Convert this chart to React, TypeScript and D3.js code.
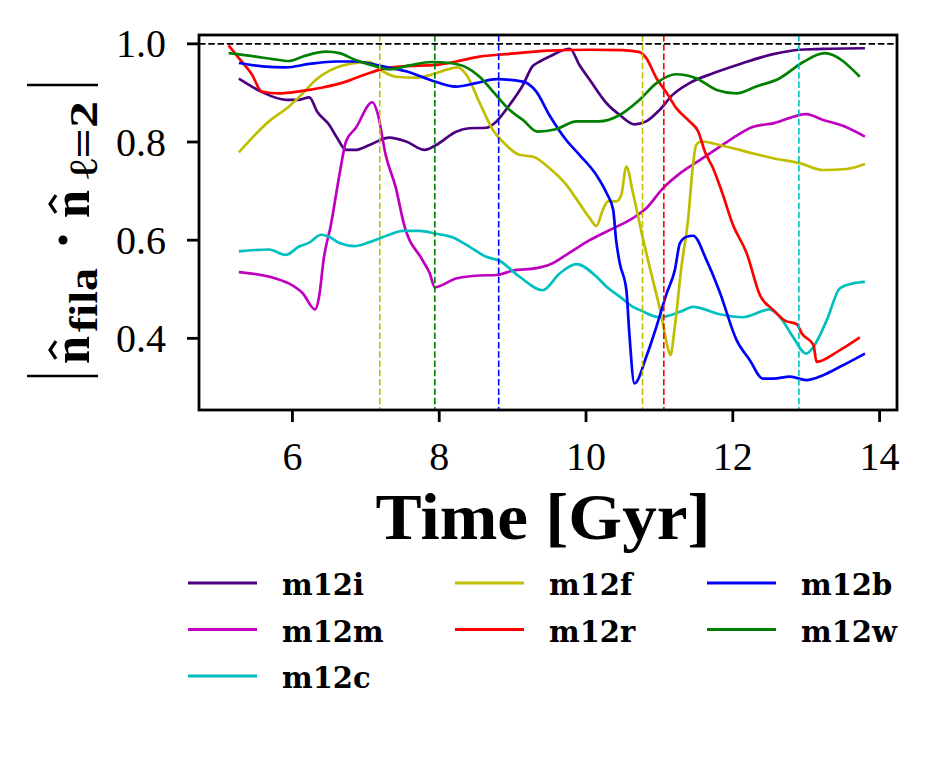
import * as d3 from 'd3';

// Time [Gyr] and |n_fila . n_l=2| per halo
const tM12i = [5.27, 5.57, 5.91, 6.09, 6.23, 6.34, 6.50, 6.61, 6.73, 6.86, 7.05, 7.32, 7.55, 7.80, 7.96, 8.23, 8.41, 8.64, 8.78, 8.96, 9.14, 9.27, 9.37, 9.50, 9.78, 9.91, 10.05, 10.28, 10.46, 10.66, 10.82, 11.00, 11.18, 11.41, 11.73, 12.10, 12.55, 12.91, 13.32, 13.80];
const vM12i = [0.929, 0.903, 0.886, 0.886, 0.891, 0.861, 0.835, 0.808, 0.784, 0.784, 0.794, 0.809, 0.801, 0.784, 0.794, 0.821, 0.828, 0.829, 0.842, 0.876, 0.916, 0.954, 0.964, 0.974, 0.990, 0.957, 0.927, 0.879, 0.855, 0.836, 0.842, 0.865, 0.896, 0.920, 0.940, 0.959, 0.979, 0.988, 0.990, 0.991];

const tM12m = [5.27, 5.77, 5.95, 6.14, 6.31, 6.36, 6.43, 6.52, 6.64, 6.73, 6.86, 7.09, 7.16, 7.27, 7.41, 7.52, 7.77, 7.87, 7.94, 8.23, 8.55, 8.78, 9.00, 9.32, 9.50, 9.73, 10.05, 10.37, 10.64, 10.82, 11.05, 11.28, 11.55, 11.82, 12.00, 12.28, 12.55, 13.00, 13.23, 13.50, 13.80];
const vM12m = [0.535, 0.522, 0.512, 0.492, 0.459, 0.482, 0.566, 0.628, 0.733, 0.801, 0.828, 0.881, 0.859, 0.774, 0.706, 0.632, 0.560, 0.533, 0.504, 0.522, 0.528, 0.529, 0.538, 0.543, 0.550, 0.570, 0.600, 0.624, 0.645, 0.665, 0.706, 0.736, 0.763, 0.790, 0.808, 0.831, 0.838, 0.857, 0.845, 0.833, 0.811];

const tM12c = [5.27, 5.68, 5.91, 6.09, 6.23, 6.39, 6.50, 6.64, 6.84, 7.05, 7.32, 7.50, 7.73, 7.96, 8.18, 8.41, 8.64, 8.82, 9.09, 9.41, 9.64, 9.87, 10.14, 10.28, 10.46, 10.64, 10.73, 11.00, 11.28, 11.46, 11.82, 12.14, 12.50, 12.64, 12.82, 13.00, 13.10, 13.28, 13.46, 13.64, 13.80];
const vM12c = [0.577, 0.581, 0.570, 0.587, 0.595, 0.611, 0.607, 0.594, 0.588, 0.596, 0.611, 0.619, 0.619, 0.613, 0.606, 0.587, 0.566, 0.558, 0.526, 0.498, 0.532, 0.551, 0.526, 0.505, 0.485, 0.464, 0.458, 0.443, 0.454, 0.464, 0.449, 0.443, 0.459, 0.444, 0.403, 0.369, 0.383, 0.437, 0.502, 0.512, 0.515];

const tM12f = [5.27, 5.68, 5.95, 6.14, 6.32, 6.50, 6.77, 7.05, 7.23, 7.41, 7.68, 7.91, 8.14, 8.25, 8.37, 8.55, 8.73, 8.91, 9.09, 9.28, 9.50, 9.73, 9.91, 10.05, 10.14, 10.23, 10.30, 10.41, 10.48, 10.55, 10.64, 10.78, 10.91, 11.03, 11.10, 11.15, 11.21, 11.30, 11.39, 11.46, 11.50, 11.57, 11.82, 12.19, 12.55, 12.91, 13.23, 13.55, 13.80];
const vM12f = [0.779, 0.842, 0.872, 0.899, 0.927, 0.945, 0.959, 0.963, 0.944, 0.933, 0.931, 0.938, 0.949, 0.952, 0.937, 0.880, 0.825, 0.794, 0.774, 0.770, 0.747, 0.713, 0.675, 0.645, 0.629, 0.662, 0.679, 0.679, 0.692, 0.750, 0.696, 0.600, 0.519, 0.444, 0.390, 0.366, 0.424, 0.546, 0.641, 0.757, 0.794, 0.801, 0.794, 0.780, 0.767, 0.757, 0.743, 0.745, 0.755];

const tM12r = [5.13, 5.27, 5.45, 5.58, 5.82, 6.09, 6.41, 6.73, 7.00, 7.23, 7.50, 7.96, 8.23, 8.55, 8.91, 9.50, 10.05, 10.50, 10.73, 10.82, 10.96, 11.10, 11.23, 11.41, 11.53, 11.62, 11.73, 11.85, 12.00, 12.19, 12.37, 12.55, 12.71, 12.87, 12.94, 13.10, 13.14, 13.46, 13.73];
const vM12r = [0.997, 0.971, 0.937, 0.903, 0.899, 0.903, 0.911, 0.923, 0.938, 0.949, 0.954, 0.957, 0.964, 0.974, 0.979, 0.986, 0.988, 0.987, 0.983, 0.971, 0.930, 0.900, 0.869, 0.842, 0.821, 0.780, 0.747, 0.699, 0.632, 0.573, 0.488, 0.458, 0.436, 0.429, 0.410, 0.386, 0.352, 0.376, 0.402];

const tM12b = [5.27, 5.59, 5.91, 6.23, 6.59, 6.86, 7.23, 7.55, 7.87, 8.23, 8.50, 8.78, 9.14, 9.32, 9.50, 9.73, 9.91, 10.14, 10.28, 10.37, 10.41, 10.46, 10.55, 10.59, 10.66, 10.82, 10.96, 11.10, 11.21, 11.28, 11.37, 11.46, 11.64, 11.82, 12.05, 12.23, 12.41, 12.55, 12.78, 13.00, 13.23, 13.46, 13.80];
const vM12b = [0.961, 0.954, 0.952, 0.959, 0.964, 0.964, 0.954, 0.944, 0.927, 0.913, 0.920, 0.928, 0.923, 0.903, 0.855, 0.804, 0.774, 0.733, 0.696, 0.662, 0.600, 0.553, 0.498, 0.410, 0.308, 0.362, 0.424, 0.492, 0.539, 0.594, 0.607, 0.609, 0.560, 0.495, 0.397, 0.356, 0.318, 0.318, 0.322, 0.315, 0.325, 0.342, 0.369];

const tM12w = [5.13, 5.50, 5.73, 5.95, 6.18, 6.46, 6.64, 6.86, 7.14, 7.32, 7.59, 7.91, 8.14, 8.37, 8.55, 8.73, 8.96, 9.14, 9.34, 9.59, 9.87, 10.18, 10.46, 10.73, 10.96, 11.23, 11.50, 11.78, 12.05, 12.32, 12.64, 12.96, 13.25, 13.73];
const vM12w = [0.981, 0.974, 0.969, 0.965, 0.976, 0.984, 0.981, 0.967, 0.954, 0.948, 0.956, 0.963, 0.961, 0.952, 0.933, 0.903, 0.865, 0.845, 0.821, 0.826, 0.842, 0.842, 0.855, 0.886, 0.920, 0.938, 0.930, 0.906, 0.899, 0.913, 0.930, 0.963, 0.981, 0.933];

const seriesNames = ['m12i', 'm12m', 'm12c', 'm12f', 'm12r', 'm12b', 'm12w'];
const seriesColors = ['#4b0082', '#bf00bf', '#00bfbf', '#bfbf00', '#ff0000', '#0000ff', '#008000'];
const seriesTimes = [tM12i, tM12m, tM12c, tM12f, tM12r, tM12b, tM12w];
const seriesValues = [vM12i, vM12m, vM12c, vM12f, vM12r, vM12b, vM12w];

// vertical event markers (time, colour)
const markerTimes = [7.19, 7.94, 8.81, 10.77, 11.06, 12.90];
const markerColors = ['#bfbf00', '#008000', '#0000ff', '#bfbf00', '#ff0000', '#00bfbf'];

const xTicks = [6, 8, 10, 12, 14];
const yTicks = [0.4, 0.6, 0.8, 1.0];

const W = 949, H = 757;
const left = 199, right = 897, top = 35, bottom = 410;

export default function App() {
  const x = d3.scaleLinear().domain([4.727, 14.237]).range([left, right]);
  const y = d3.scaleLinear().domain([0.254, 1.018]).range([bottom, top]);

  const line = d3.line<[number, number]>()
    .x(d => x(d[0]))
    .y(d => y(d[1]))
    .curve(d3.curveMonotoneX);

  const fmt = d3.format('.1f');

  // legend: column-major, 3 rows
  const legCols = [188, 455, 707];
  const legRows = [583, 629.5, 676];

  // hat over an "n" in the rotated y-label (x' along text, y' = screen x)
  const hat = (x0: number, w: number) =>
    `M${x0 + w * 0.18},${56} L${x0 + w * 0.5},${50} L${x0 + w * 0.82},${56}`;

  return (
    <svg width={W} height={H} style={{ position: 'absolute', left: 0, top: 0, background: '#fff' }}
      fontFamily="'Liberation Serif', serif">
      <rect x={0} y={0} width={W} height={H} fill="#fff" />

      <defs>
        <clipPath id="plot">
          <rect x={left} y={top} width={right - left} height={bottom - top} />
        </clipPath>
      </defs>

      <g clipPath="url(#plot)">
        {/* data lines */}
        {seriesNames.map((name, i) => (
          <path key={name}
            d={line(seriesTimes[i].map((t, j) => [t, seriesValues[i][j]] as [number, number])) || ''}
            fill="none" stroke={seriesColors[i]} strokeWidth={2.7} strokeLinejoin="round" />
        ))}

        {/* markers */}
        {markerTimes.map((t, i) => (
          <line key={i} x1={x(t)} x2={x(t)} y1={top} y2={bottom}
            stroke={markerColors[i]} strokeWidth={1.6} strokeDasharray="6.5,2.8" />
        ))}
        <line x1={left} x2={right} y1={y(1.0)} y2={y(1.0)}
          stroke="#000" strokeWidth={1.6} strokeDasharray="6.5,2.8" />
      </g>

      {/* frame */}
      <rect x={left} y={top} width={right - left} height={bottom - top}
        fill="none" stroke="#000" strokeWidth={2.8} />

      {/* x axis */}
      {xTicks.map(t => (
        <g key={t}>
          <line x1={x(t)} x2={x(t)} y1={bottom} y2={bottom + 12} stroke="#000" strokeWidth={2.8} />
          <text x={x(t)} y={470} textAnchor="middle" fontSize={40}>{t}</text>
        </g>
      ))}

      {/* y axis */}
      {yTicks.map(v => (
        <g key={v}>
          <line x1={left - 12} x2={left} y1={y(v)} y2={y(v)} stroke="#000" strokeWidth={2.8} />
          <text x={166} y={y(v)} dy="0.34em" textAnchor="end" fontSize={40}>{fmt(v)}</text>
        </g>
      ))}

      {/* x label */}
      <text x={543} y={539} textAnchor="middle" fontSize={66} fontWeight="bold"
        textLength={335} lengthAdjust="spacingAndGlyphs">Time [Gyr]</text>

      {/* y label */}
      <g>
        <line x1={27} x2={98} y1={85} y2={85} stroke="#000" strokeWidth={2.6} />
        <line x1={27} x2={98} y1={376} y2={376} stroke="#000" strokeWidth={2.6} />
        <circle cx={63} cy={240} r={4.5} fill="#000" />
        <g transform="rotate(-90)" fontWeight="bold">
          <text x={-364} y={89} fontSize={52} textLength={28} lengthAdjust="spacingAndGlyphs">n</text>
          <path d={hat(-364, 28)} fill="none" stroke="#000" strokeWidth={3.2} strokeLinejoin="miter" />
          <text x={-332} y={97} fontSize={40} textLength={64} lengthAdjust="spacingAndGlyphs">fila</text>
          <text x={-218} y={89} fontSize={52} textLength={28} lengthAdjust="spacingAndGlyphs">n</text>
          <path d={hat(-218, 28)} fill="none" stroke="#000" strokeWidth={3.2} strokeLinejoin="miter" />
          <text x={-179} y={97} fontSize={40} textLength={78} lengthAdjust="spacingAndGlyphs">ℓ=2</text>
        </g>
      </g>

      {/* legend */}
      {seriesNames.map((name, i) => {
        const col = i < 3 ? 0 : (i < 5 ? 1 : 2);
        const row = i < 3 ? i : (i < 5 ? i - 3 : i - 5);
        const lx = legCols[col], ly = legRows[row];
        return (
          <g key={name}>
            <line x1={lx} x2={lx + 69} y1={ly} y2={ly} stroke={seriesColors[i]} strokeWidth={3.2} />
            <text x={lx + 94} y={ly + 12} fontSize={29} fontWeight="bold"
              fontFamily="'DejaVu Serif', serif">{name}</text>
          </g>
        );
      })}
    </svg>
  );
}
